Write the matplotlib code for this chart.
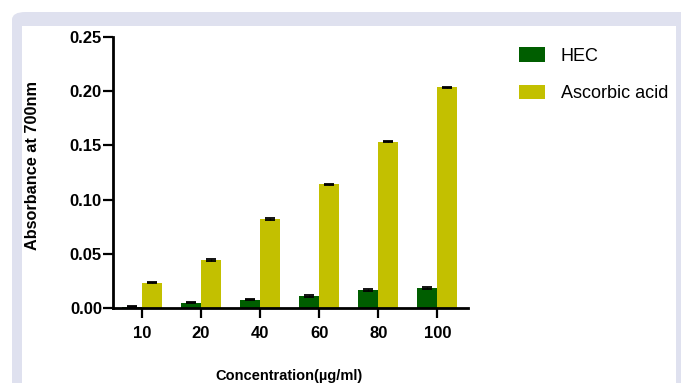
import numpy as np
import matplotlib.pyplot as plt
from matplotlib.patches import FancyBboxPatch, Rectangle

plt.rcParams["font.family"] = ["Liberation Sans", "DejaVu Sans"]

concentrations = ["10", "20", "40", "60", "80", "100"]
hec = [0.0012, 0.005, 0.0075, 0.011, 0.0165, 0.0185]
hec_err = [0.0003, 0.0006, 0.0005, 0.0006, 0.0008, 0.0007]
ascorbic = [0.0235, 0.0443, 0.082, 0.114, 0.1535, 0.2035]
ascorbic_err = [0.0005, 0.0006, 0.0012, 0.0006, 0.0006, 0.0006]

fig = plt.figure(figsize=(6.81, 3.83), dpi=100)

# page frame
W, H = 681, 383
fig.patches.append(FancyBboxPatch((12 / W, -0.1), 2, 1.1 - 12 / H,
                                  boxstyle="round,pad=0,rounding_size=0.02",
                                  transform=fig.transFigure, facecolor="#dfe1ef",
                                  edgecolor="none", zorder=-2))
fig.patches.append(Rectangle((22 / W, -0.1), (676 - 22) / W, 1.1 - 26 / H,
                             transform=fig.transFigure, facecolor="white",
                             edgecolor="none", zorder=-1))

ax = fig.add_axes([113 / W, 1 - 308 / H, 355 / W, 271 / H])
x = np.arange(len(concentrations))
w = 0.34
ekw = dict(ecolor="black", capsize=3.5, elinewidth=1.0, capthick=1.3)
ax.bar(x - w / 2, hec, w, yerr=hec_err, color="#005e00", label="HEC", error_kw=ekw)
ax.bar(x + w / 2, ascorbic, w, yerr=ascorbic_err, color="#c3c000",
       label="Ascorbic acid", error_kw=ekw)

ax.set_xlim(-0.49, 5.52)
ax.set_ylim(0, 0.25)
ax.set_yticks([0, 0.05, 0.10, 0.15, 0.20, 0.25])
ax.set_yticklabels(["0.00", "0.05", "0.10", "0.15", "0.20", "0.25"])
ax.set_xticks(x)
ax.set_xticklabels(concentrations)
for s in ["top", "right"]:
    ax.spines[s].set_visible(False)
for s in ["left", "bottom"]:
    ax.spines[s].set_linewidth(2)
ax.tick_params(axis="y", length=7, width=1.6, labelsize=12, pad=1)
ax.tick_params(axis="x", length=7, width=1.6, labelsize=12, pad=6)
for lab in ax.get_xticklabels() + ax.get_yticklabels():
    lab.set_fontweight("bold")

fig.text(33 / W, 1 - 166 / H, "Absorbance at 700nm", rotation=90, fontsize=11.7,
         fontweight="bold", ha="center", va="center")
fig.text(289 / W, 1 - 376 / H, "Concentration(µg/ml)", fontsize=10.5,
         fontweight="bold", ha="center", va="center")

ax.legend(loc="upper left", bbox_to_anchor=(503 / W, 1 - 31 / H),
          bbox_transform=fig.transFigure, frameon=False, fontsize=13,
          handlelength=1.4, handleheight=0.85, handletextpad=0.9, labelspacing=1.1)

fig.savefig("out.png", dpi=100)
